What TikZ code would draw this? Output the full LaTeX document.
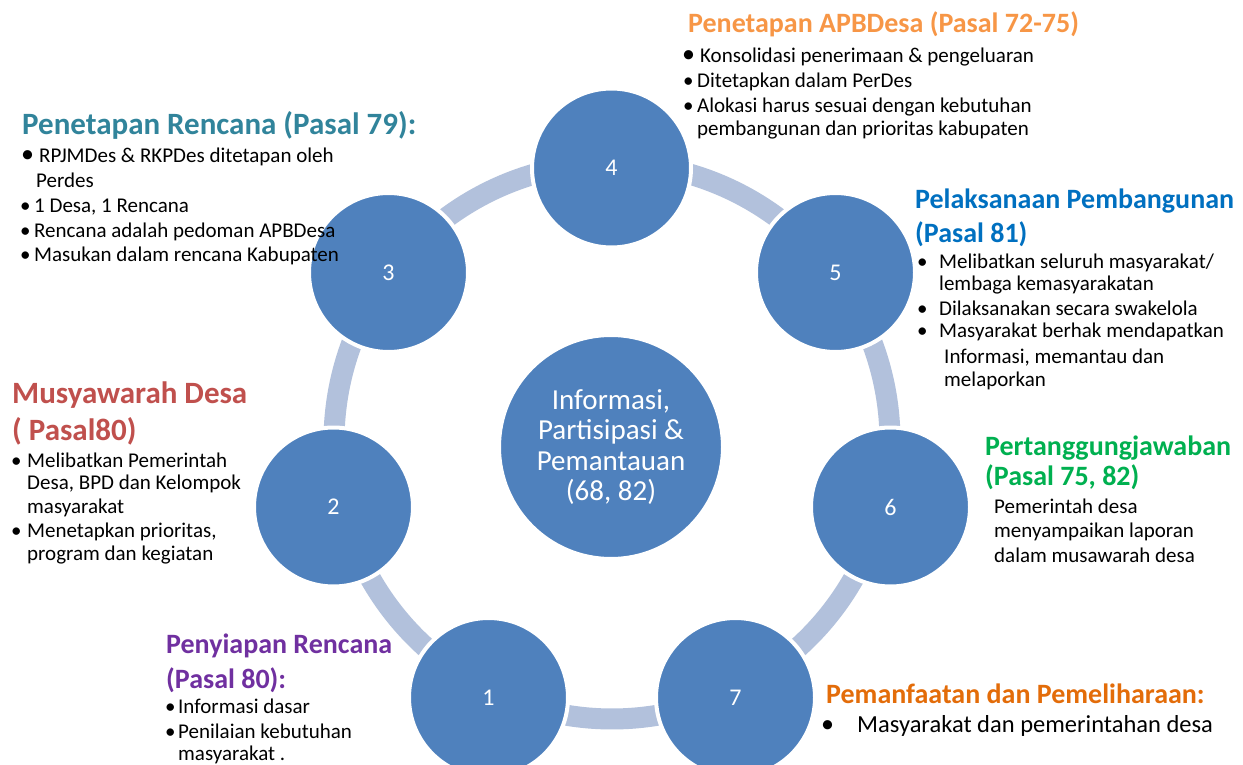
\documentclass[tikz,border=0pt]{standalone}
\usepackage{fontspec}
\setmainfont{Carlito}
\usetikzlibrary{calc}
\definecolor{cblue}{HTML}{4F81BD}
\definecolor{ringc}{HTML}{B2C1DC}
\definecolor{cteal}{HTML}{31849B}
\definecolor{corangeA}{HTML}{F79646}
\definecolor{cbluetxt}{HTML}{0070C0}
\definecolor{cgreen}{HTML}{00B050}
\definecolor{corangeB}{HTML}{E36C09}
\definecolor{cred}{HTML}{C0504D}
\definecolor{cpurple}{HTML}{7030A0}
\begin{document}
\begin{tikzpicture}[x=1pt,y=-1pt,
  num/.style={circle, fill=cblue, draw=white, line width=4pt, minimum size=159pt, inner sep=0pt, text=white, font=\fontsize{24}{28}\selectfont},
  hub/.style={circle, fill=cblue, draw=white, line width=2pt, minimum size=222pt, inner sep=0pt, text=white, align=center, font=\fontsize{29}{30.5}\selectfont},
  ring/.style={draw=ringc, line width=21pt},
  ttl/.style={anchor=base west, inner sep=0pt, font=\fontsize{28}{30}\selectfont\bfseries},
  ttlL/.style={anchor=base west, inner sep=0pt, font=\fontsize{31}{32}\selectfont\bfseries},
  txt/.style={anchor=base west, inner sep=0pt, font=\fontsize{21}{23}\selectfont},
  txtL/.style={anchor=base west, inner sep=0pt, font=\fontsize{24.5}{26}\selectfont},
  bigbul/.style={anchor=base west, inner sep=0pt, font=\fontsize{26}{26}\selectfont},
]
\useasboundingbox (0,0) rectangle (1243,765);
\fill[white] (0,0) rectangle (1243,765);

% ring
\coordinate (C) at (612,441);
\foreach \a/\b [count=\i] in {270/323, 323/373.3, 373.3/424.3, 424.3/475.7, 475.7/526.7, 526.7/577, 577/630}{
  \coordinate (p\i) at ($(C)+(\a:278)$);
  \draw[ring] (p\i) arc[start angle=\a, end angle=\b, radius=278];
}

% circles
\node[hub] (nc) at (611,447) {Informasi,\\Partisipasi \&\\Pemantauan\\(68, 82)};
\node[num] (n4) at (611.5,168) {4};
\node[num] (n5) at (835.5,272.5) {5};
\node[num] (n6) at (890.5,507) {6};
\node[num] (n7) at (735.5,697.5) {7};
\node[num] (n1) at (488.5,697.5) {1};
\node[num] (n2) at (333.5,507) {2};
\node[num] (n3) at (388.5,272.5) {3};

% block 3
\node[ttlL, text=cteal] (t3) at (22,135) {Penetapan Rencana (Pasal 79):};
\node[bigbul] (b3a) at (21,163) {•};
\node[txt] (l3a) at (39,163) {RPJMDes \& RKPDes ditetapan oleh};
\node[txt] (l3b) at (36,188) {Perdes};
\node[txt] (b3c) at (20,212) {•};
\node[txt] (l3c) at (34,212) {1 Desa, 1 Rencana};
\node[txt] (b3d) at (20,237) {•};
\node[txt] (l3d) at (34,237) {Rencana adalah pedoman APBDesa};
\node[txt] (b3e) at (20,261) {•};
\node[txt] (l3e) at (34,261) {Masukan dalam rencana Kabupaten};

% block 4
\node[ttl, text=corangeA] (t4) at (688,33) {Penetapan APBDesa (Pasal 72-75)};
\node[bigbul] (b4a) at (682,63) {•};
\node[txt] (l4a) at (700,63) {Konsolidasi penerimaan \& pengeluaran};
\node[txt] (b4b) at (683,88) {•};
\node[txt] (l4b) at (697,88) {Ditetapkan dalam PerDes};
\node[txt] (b4c) at (683,113) {•};
\node[txt] (l4c) at (697,113) {Alokasi harus sesuai dengan kebutuhan};
\node[txt] (l4d) at (697,136) {pembangunan dan prioritas kabupaten};

% block 5
\node[ttl, text=cbluetxt] (t5a) at (915,208) {Pelaksanaan Pembangunan};
\node[ttl, text=cbluetxt] (t5b) at (915,242) {(Pasal 81)};
\node[txt] (b5a) at (917,268) {•};
\node[txt] (l5a) at (939,268) {Melibatkan seluruh masyarakat/};
\node[txt] (l5b) at (939,290) {lembaga kemasyarakatan};
\node[txt] (b5c) at (917,315) {•};
\node[txt] (l5c) at (939,315) {Dilaksanakan secara swakelola};
\node[txt] (b5d) at (917,337) {•};
\node[txt] (l5d) at (939,337) {Masyarakat berhak mendapatkan};
\node[txt] (l5e) at (944,363) {Informasi, memantau dan};
\node[txt] (l5f) at (944,386) {melaporkan};

% block 6
\node[ttl, text=cgreen] (t6a) at (985,455) {Pertanggungjawaban};
\node[ttl, text=cgreen] (t6b) at (985,485) {(Pasal 75, 82)};
\node[txt] (l6a) at (994,513) {Pemerintah desa};
\node[txt] (l6b) at (994,537) {menyampaikan laporan};
\node[txt] (l6c) at (994,562) {dalam musawarah desa};

% block 7
\node[ttl, text=corangeB] (t7) at (826,703) {Pemanfaatan dan Pemeliharaan:};
\node[bigbul] (b7) at (821,732) {•};
\node[txtL] (l7) at (857,732) {Masyarakat dan pemerintahan desa};

% block 2
\node[ttlL, text=cred] (t2a) at (12,403) {Musyawarah Desa};
\node[ttlL, text=cred] (t2b) at (12,440) {( Pasal80)};
\node[txt] (b2a) at (11,467) {•};
\node[txt] (l2a) at (27,467) {Melibatkan Pemerintah};
\node[txt] (l2b) at (27,489) {Desa, BPD dan Kelompok};
\node[txt] (l2c) at (27,513) {masyarakat};
\node[txt] (b2d) at (11,537) {•};
\node[txt] (l2d) at (27,537) {Menetapkan prioritas,};
\node[txt] (l2e) at (27,560) {program dan kegiatan};

% block 1
\node[ttl, text=cpurple] (t1a) at (166,653) {Penyiapan Rencana};
\node[ttl, text=cpurple] (t1b) at (166,688) {(Pasal 80):};
\node[txt] (b1a) at (165,713) {•};
\node[txt] (l1a) at (178,713) {Informasi dasar};
\node[txt] (b1b) at (165,738) {•};
\node[txt] (l1b) at (178,738) {Penilaian kebutuhan};
\node[txt] (l1c) at (178,760) {masyarakat .};
\end{tikzpicture}
\end{document}
